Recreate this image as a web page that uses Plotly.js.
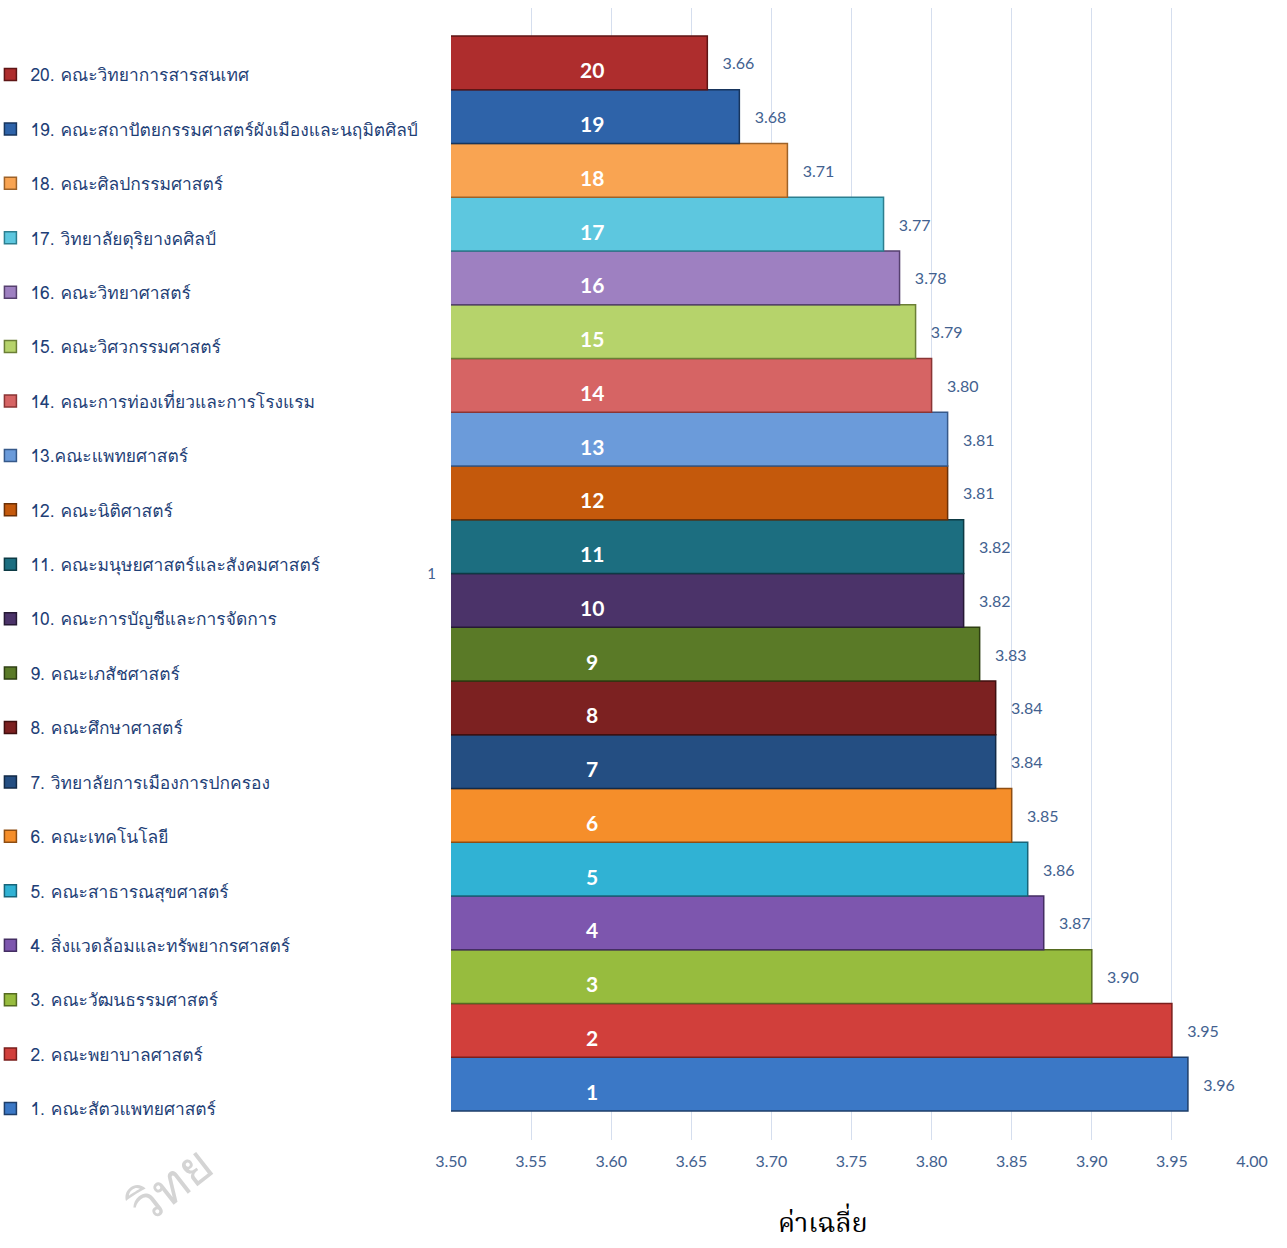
<!DOCTYPE html>
<html>
<head>
<meta charset="utf-8">
<script src="https://cdn.plot.ly/plotly-3.0.1.min.js"></script>
<style>
html,body{margin:0;padding:0;background:#fff;}
#chart{width:1287px;height:1248px;}
</style>
</head>
<body>
<div id="chart"></div>
<script>
// ---- data ----
var faculties = [
  "1. คณะสัตวแพทยศาสตร์",
  "2. คณะพยาบาลศาสตร์",
  "3. คณะวัฒนธรรมศาสตร์",
  "4. สิ่งแวดล้อมและทรัพยากรศาสตร์",
  "5. คณะสาธารณสุขศาสตร์",
  "6. คณะเทคโนโลยี",
  "7. วิทยาลัยการเมืองการปกครอง",
  "8. คณะศึกษาศาสตร์",
  "9. คณะเภสัชศาสตร์",
  "10. คณะการบัญชีและการจัดการ",
  "11. คณะมนุษยศาสตร์และสังคมศาสตร์",
  "12. คณะนิติศาสตร์",
  "13.คณะแพทยศาสตร์",
  "14. คณะการท่องเที่ยวและการโรงแรม",
  "15. คณะวิศวกรรมศาสตร์",
  "16. คณะวิทยาศาสตร์",
  "17. วิทยาลัยดุริยางคศิลป์",
  "18. คณะศิลปกรรมศาสตร์",
  "19. คณะสถาปัตยกรรมศาสตร์ผังเมืองและนฤมิตศิลป์",
  "20. คณะวิทยาการสารสนเทศ"
];
var values = [3.96, 3.95, 3.90, 3.87, 3.86, 3.85, 3.84, 3.84, 3.83, 3.82,
              3.82, 3.81, 3.81, 3.80, 3.79, 3.78, 3.77, 3.71, 3.68, 3.66];
var barLabels = ["1","2","3","4","5","6","7","8","9","10",
                 "11","12","13","14","15","16","17","18","19","20"];
var categories = ["1"];
var xTickVals = [3.50, 3.55, 3.60, 3.65, 3.70, 3.75, 3.80, 3.85, 3.90, 3.95, 4.00];
var axisTitle = "ค่าเฉลี่ย";
var watermark = "วิทย";

// ---- styles ----
var colors = ["#3B78C6","#D13F3B","#97BC3E","#7D56AE","#30B2D4","#F58E2A","#244E82","#7C2121","#5A7A27","#4B3369",
              "#1C6E80","#C4590C","#6B9BDA","#D66464","#B6D36B","#9E80C1","#5DC7DF","#F9A452","#2E63A9","#AE2D2D"];
var edges  = ["#1E3E6A","#7A1F1D","#556B20","#442E63","#17657A","#8F4E12","#122A47","#3F0F0F","#2E3F12","#261934",
              "#0D3A44","#6C3006","#36598A","#8A3535","#6B7F36","#56406F","#2C7F90","#9E6228","#17355D","#5E1515"];
var thaiFont = "Tahoma, Loma, Waree, 'Noto Sans Thai Looped', 'Noto Sans Thai', 'Noto Sans', sans-serif";
var serifThai = "'Angsana New', 'TH Sarabun New', Kinnari, Norasi, 'Noto Serif Thai', 'Noto Sans Thai Looped', serif";
var numFont = "Lato, 'Open Sans', sans-serif";
var INNER_X = 3.588;
var N = values.length;

var traces = [];
for (var i = 0; i < N; i++) {
  traces.push({
    type: 'bar',
    orientation: 'h',
    x: [values[i]],
    y: [i + 1],
    width: [1],
    name: faculties[i],
    legendgroup: 'g' + i,
    legendrank: N - i,
    marker: {color: colors[i], line: {color: edges[i], width: 1.5}},
    text: [values[i].toFixed(2)],
    texttemplate: '\u00a0\u00a0\u00a0%{text}',
    textposition: 'outside',
    textfont: {family: numFont, size: 16, color: '#42618F'},
    cliponaxis: false,
    hoverinfo: 'name+x'
  });
}

var annotations = [];
for (var j = 0; j < N; j++) {
  annotations.push({
    x: INNER_X, y: j + 1, xref: 'x', yref: 'y',
    text: '<b>' + barLabels[j] + '</b>',
    showarrow: false, yshift: -7,
    font: {family: numFont, size: 21, color: '#FFFFFF'}
  });
}
annotations.push({
  x: 0.464, y: -0.075, xref: 'paper', yref: 'paper',
  text: axisTitle, showarrow: false, xanchor: 'center', yanchor: 'middle',
  font: {family: serifThai, size: 27, color: '#000000'}
});
annotations.push({
  x: -0.351, y: -0.04, xref: 'paper', yref: 'paper',
  text: watermark, showarrow: false, textangle: -38,
  xanchor: 'center', yanchor: 'middle',
  font: {family: thaiFont, size: 50, color: '#D4D4D4'}
});

var layout = {
  width: 1287, height: 1248,
  margin: {l: 451, r: 35, t: 8, b: 108, autoexpand: false},
  paper_bgcolor: '#FFFFFF', plot_bgcolor: '#FFFFFF',
  barmode: 'overlay',
  showlegend: true,
  legend: {
    x: -0.575, xanchor: 'left', y: 0.957, yanchor: 'top',
    traceorder: 'grouped', tracegroupgap: 28.8,
    font: {family: thaiFont, size: 17.4, color: '#1F3F77'},
    itemwidth: 30, bgcolor: 'rgba(0,0,0,0)'
  },
  xaxis: {
    range: [3.5, 4.0], tickvals: xTickVals, tickformat: '.2f',
    showgrid: true, gridcolor: '#D5DEEE', gridwidth: 1,
    zeroline: false, showline: false,
    ticks: '', ticklabelstandoff: 10,
    tickfont: {family: numFont, size: 16, color: '#42618F'}
  },
  yaxis: {
    range: [-0.04, 21.02], tickvals: [10.5], ticktext: categories,
    showgrid: false, zeroline: false, showline: false,
    ticks: '', ticklabelstandoff: 14,
    tickfont: {family: numFont, size: 15, color: '#42618F'}
  },
  annotations: annotations
};

Plotly.newPlot('chart', traces, layout, {displayModeBar: false, staticPlot: true});
</script>
</body>
</html>
